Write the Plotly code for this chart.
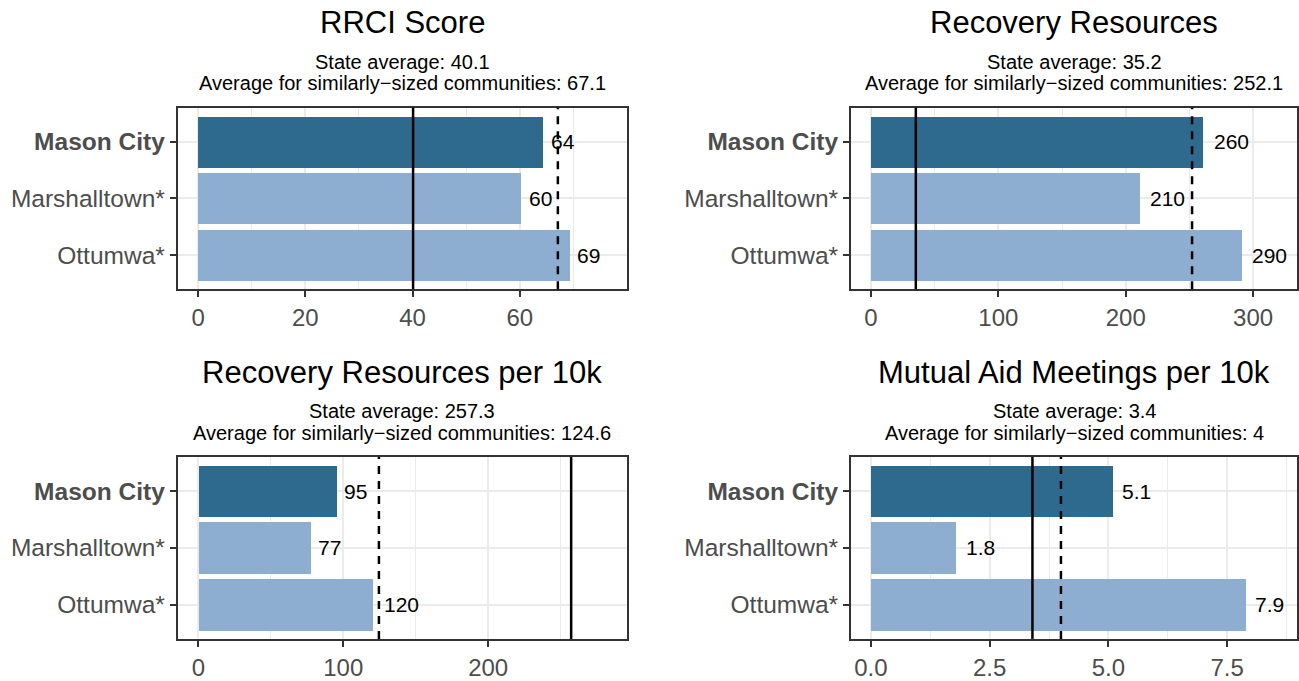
import plotly.graph_objects as go

W, H = 1299, 681

# ---------------- data ----------------
categories = ["Mason City", "Marshalltown*", "Ottumwa*"]
highlight = "Mason City"

panel_titles = ["RRCI Score", "Recovery Resources",
                "Recovery Resources per 10k", "Mutual Aid Meetings per 10k"]

rrci_score = [64.3, 60.2, 69.3]
recovery_resources = [261, 211, 291]
recovery_resources_per_10k = [95.3, 77.4, 120.6]
mutual_aid_per_10k = [5.1, 1.8, 7.9]

state_average = [40.1, 35.2, 257.3, 3.4]
similar_average = [67.1, 252.1, 124.6, 4]

series = [rrci_score, recovery_resources, recovery_resources_per_10k, mutual_aid_per_10k]

# ---------------- style / layout ----------------
DARK = "#2E6A8E"
LIGHT = "#8DAED1"
FONT = "Liberation Sans, Arial, sans-serif"
GRID = "#EBEBEB"
BORDER = "#333333"
TICKTXT = "#4D4D4D"

x_ranges = [[-3.8, 79.9], [-15.7, 334.5], [-14.3, 295.5], [-0.42, 8.97]]
dticks = [20, 100, 100, 2.5]
tickformats = ["", "", "", ".1f"]

# panel boxes in pixels (left, right, top, bottom)
boxes = [(177.7, 626.5, 109, 293), (851, 1297, 109, 293),
         (177.7, 626.5, 463, 647.5), (851, 1297, 463, 647.5)]
title_y = [22.5, 22.5, 377, 377]
sub1_y = [62.5, 62.5, 417, 417]
sub2_y = [84.2, 84.2, 438.7, 438.7]


def px_x(v):
    return v / W


def px_y(v):
    return 1 - v / H


def signif2(v):
    return f"{float(f'{v:.2g}'):g}"


def text_width(s, size):
    w = 0
    for ch in s:
        w += 0.278 if ch == "." else 0.556
    return w * size


fig = go.Figure()
annotations = []
shapes = []

for i in range(4):
    n = "" if i == 0 else str(i + 1)
    xa, ya = "x" + n, "y" + n
    left, right, top, bottom = boxes[i]
    vals = series[i]
    colors = [DARK if c == highlight else LIGHT for c in categories]

    fig.add_trace(go.Bar(
        x=vals, y=categories, orientation="h", width=0.9,
        marker=dict(color=colors, line=dict(width=0)),
        xaxis=xa, yaxis=ya, showlegend=False, hoverinfo="x+y",
    ))

    ticktext = [f"<b>{c}</b>" if c == highlight else c for c in categories]

    fig.update_layout(**{
        ("xaxis" + n): dict(
            domain=[px_x(left), px_x(right)], anchor=ya,
            range=x_ranges[i], dtick=dticks[i], tick0=0, tickformat=tickformats[i],
            showgrid=True, gridcolor=GRID, gridwidth=2, zeroline=False,
            minor=dict(showgrid=True, gridcolor=GRID, gridwidth=1, dtick=dticks[i] / 2, tick0=0),
            showline=True, mirror=True, linecolor=BORDER, linewidth=2,
            ticks="outside", ticklen=6, tickwidth=2, tickcolor=BORDER,
            tickfont=dict(family=FONT, size=24, color=TICKTXT),
            fixedrange=True,
        ),
        ("yaxis" + n): dict(
            domain=[px_y(bottom), px_y(top)], anchor=xa,
            type="category", categoryorder="array", categoryarray=categories,
            range=[2.6, -0.6], tickvals=categories, ticktext=ticktext,
            showgrid=True, gridcolor=GRID, gridwidth=2, zeroline=False,
            showline=True, mirror=True, linecolor=BORDER, linewidth=2,
            ticks="outside", ticklen=6, tickwidth=2, tickcolor=BORDER,
            tickfont=dict(family=FONT, size=24.5, color=TICKTXT),
            fixedrange=True,
        ),
    })

    # reference lines
    shapes.append(dict(type="line", xref=xa, yref=ya + " domain",
                       x0=state_average[i], x1=state_average[i], y0=0, y1=1,
                       line=dict(color="black", width=2.5)))
    shapes.append(dict(type="line", xref=xa, yref=ya + " domain",
                       x0=similar_average[i], x1=similar_average[i], y0=0, y1=1,
                       line=dict(color="black", width=2.5, dash="8px,7px")))

    # value labels
    for c, v in zip(categories, vals):
        lab = signif2(v)
        annotations.append(dict(
            x=v, y=c, xref=xa, yref=ya, text=lab, showarrow=False,
            xanchor="left", yanchor="middle", xshift=0.25 * text_width(lab, 21),
            font=dict(family=FONT, size=21, color="black"),
        ))

    cx = px_x((left + right) / 2)
    annotations.append(dict(
        x=cx, y=px_y(title_y[i]), xref="paper", yref="paper", text=panel_titles[i],
        showarrow=False, xanchor="center", yanchor="middle",
        font=dict(family=FONT, size=31, color="black")))
    annotations.append(dict(
        x=cx, y=px_y(sub1_y[i]), xref="paper", yref="paper",
        text=f"State average: {state_average[i]:g}",
        showarrow=False, xanchor="center", yanchor="middle",
        font=dict(family=FONT, size=20, color="black")))
    annotations.append(dict(
        x=cx, y=px_y(sub2_y[i]), xref="paper", yref="paper",
        text=f"Average for similarly\u2212sized communities: {similar_average[i]:g}",
        showarrow=False, xanchor="center", yanchor="middle",
        font=dict(family=FONT, size=20, color="black")))

fig.update_layout(
    width=W, height=H, margin=dict(l=0, r=0, t=0, b=0),
    paper_bgcolor="white", plot_bgcolor="white",
    annotations=annotations, shapes=shapes, bargap=0,
    font=dict(family=FONT),
)

fig.write_html(
    "out.html",
    config={"displayModeBar": False},
    post_script="document.body.style.margin='0px';document.body.style.overflow='hidden';",
)
